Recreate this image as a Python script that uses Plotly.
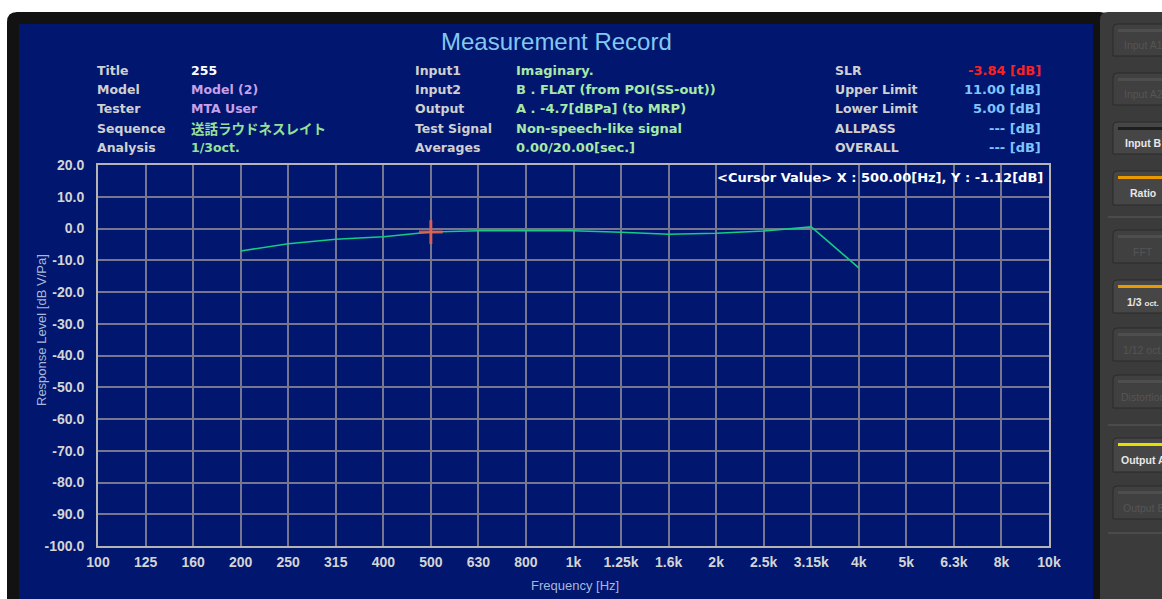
import plotly.graph_objects as go

# ---------------- data ----------------
bands = ["100", "125", "160", "200", "250", "315", "400", "500", "630", "800", "1k",
         "1.25k", "1.6k", "2k", "2.5k", "3.15k", "4k", "5k", "6.3k", "8k", "10k"]
resp_bands = ["200", "250", "315", "400", "500", "630", "800", "1k", "1.25k", "1.6k",
              "2k", "2.5k", "3.15k", "4k"]
resp_db = [-7.1, -4.8, -3.4, -2.6, -1.12, -0.7, -0.7, -0.7, -1.2, -1.8, -1.5, -0.8, 0.5, -12.4]
cursor_band = "500"
cursor_db = -1.12
y_ticks = [20, 10, 0, -10, -20, -30, -40, -50, -60, -70, -80, -90, -100]

header_left_labels = ["Title", "Model", "Tester", "Sequence", "Analysis"]
header_left_values = ["255", "Model (2)", "MTA User", "送話ラウドネスレイト", "1/3oct."]
header_mid_labels = ["Input1", "Input2", "Output", "Test Signal", "Averages"]
header_mid_values = ["Imaginary.", "B . FLAT (from POI(SS-out))", "A . -4.7[dBPa] (to MRP)",
                     "Non-speech-like signal", "0.00/20.00[sec.]"]
header_right_labels = ["SLR", "Upper Limit", "Lower Limit", "ALLPASS", "OVERALL"]
header_right_values = ["-3.84 [dB]", "11.00 [dB]", "5.00 [dB]", "--- [dB]", "--- [dB]"]

# ---------------- geometry helpers ----------------
W, H = 1162, 599
L, R, T, B = 98, 1049, 165, 546


def px(x):
    return (x - L) / (R - L)


def py(y):
    return (B - y) / (B - T)


def rrect(x0, y0, x1, y1, r):
    X0, X1 = px(x0), px(x1)
    Y0, Y1 = py(y0), py(y1)
    rx = r / (R - L)
    ry = r / (B - T)
    return (f"M{X0},{Y1} L{X0},{Y0 - ry} Q{X0},{Y0} {X0 + rx},{Y0} "
            f"L{X1 - rx},{Y0} Q{X1},{Y0} {X1},{Y0 - ry} L{X1},{Y1} Z")


shapes = []
# window background pieces
shapes.append(dict(type="path", path=rrect(7, 12, 1110, 620, 10), fillcolor="#121212",
                   line=dict(width=0), xref="paper", yref="paper", layer="below"))
shapes.append(dict(type="rect", x0=px(19), x1=px(1093), y0=py(24), y1=py(620),
                   fillcolor="#00166f", line=dict(width=0), xref="paper", yref="paper",
                   layer="below"))
shapes.append(dict(type="path", path=rrect(1100, 12, 1200, 620, 8), fillcolor="#3b3b3b",
                   line=dict(width=0), xref="paper", yref="paper", layer="below"))

# right-side buttons: (top, bottom, label, active, bar colour)
buttons = [
    (24, 56, "Input A1", False, "#4e4e4e"),
    (73, 105, "Input A2", False, "#4e4e4e"),
    (122, 154, "Input B", True, "#1e1e1e"),
    (171, 205, "Ratio", True, "#e89a00"),
    (230, 263, "FFT", False, "#4e4e4e"),
    (280, 313, "1/3 <span style='font-size:8px'>oct.</span>", True, "#e89a00"),
    (328, 361, "1/12 oct.", False, "#4e4e4e"),
    (375, 408, "Distortion", False, "#4e4e4e"),
    (438, 472, "Output A", True, "#e4e000"),
    (486, 519, "Output B", False, "#4e4e4e"),
]
annotations = []
for top, bot, lab, active, bar in buttons:
    shapes.append(dict(type="path", path=rrect(1113, top, 1185, bot, 4),
                       fillcolor="#464646" if active else "#404040",
                       line=dict(color="#2a2a2a", width=1), xref="paper", yref="paper",
                       layer="below"))
    shapes.append(dict(type="rect", x0=px(1118), x1=px(1185), y0=py(top + 5), y1=py(top + 8),
                       fillcolor=bar, line=dict(width=0), xref="paper", yref="paper",
                       layer="below"))
    annotations.append(dict(x=px(1143), y=py((top + bot) / 2 + 5), xref="paper", yref="paper",
                            text=f"<b>{lab}</b>" if active else lab, showarrow=False,
                            xanchor="center", yanchor="middle",
                            font=dict(family="Liberation Sans", size=10.5,
                                      color="#e8e8e8" if active else "#555555")))
for sy in (217, 425, 533):
    shapes.append(dict(type="line", x0=px(1108), x1=px(1170), y0=py(sy), y1=py(sy),
                       line=dict(color="#5c5c5c", width=1), xref="paper", yref="paper",
                       layer="below"))

# ---------------- header text ----------------
HF = "DejaVu Sans"
rows_y = [70, 89, 108, 128, 147]
lab_col = "#d0d0d0"
left_val_cols = ["#ffffff", "#c8a0e8", "#c8a0e8", "#98e098", "#98e098"]
right_val_cols = ["#ff2020", "#80c4ff", "#80c4ff", "#80c4ff", "#80c4ff"]


def txt(x, y, s, color, anchor="left", size=12.5, family=HF, bold=True):
    annotations.append(dict(x=px(x), y=py(y), xref="paper", yref="paper",
                            text=f"<b>{s}</b>" if bold else s, showarrow=False,
                            xanchor=anchor, yanchor="middle",
                            font=dict(family=family, size=size, color=color)))


for i, yy in enumerate(rows_y):
    txt(95, yy, header_left_labels[i], lab_col)
    fam = "Noto Sans CJK JP" if i == 3 else HF
    txt(189, yy, header_left_values[i], left_val_cols[i], size=13.5 if i == 3 else 12.5,
        family=fam)
    txt(413, yy, header_mid_labels[i], lab_col)
    txt(514, yy, header_mid_values[i], "#a8e8a8", size=13)
    txt(833, yy, header_right_labels[i], lab_col)
    txt(1043, yy, header_right_values[i], right_val_cols[i], anchor="right", size=13)

# title
annotations.append(dict(x=px(556), y=py(41), xref="paper", yref="paper",
                        text="Measurement Record", showarrow=False, xanchor="center",
                        yanchor="middle",
                        font=dict(family="Liberation Sans", size=24, color="#82c8f2")))
# cursor readout
txt(1045, 177, f"&lt;Cursor Value&gt; X : {float(cursor_band):.2f}[Hz], Y : {cursor_db:.2f}[dB]",
    "#ffffff", anchor="right", size=13)
# axis titles
annotations.append(dict(x=px(575), y=py(585), xref="paper", yref="paper",
                        text="Frequency [Hz]", showarrow=False, xanchor="center",
                        yanchor="middle",
                        font=dict(family="Liberation Sans", size=13, color="#a8b8d8")))
annotations.append(dict(x=px(41), y=py(330), xref="paper", yref="paper",
                        text="Response Level [dB V/Pa]", showarrow=False, textangle=-90,
                        xanchor="center", yanchor="middle",
                        font=dict(family="Liberation Sans", size=13, color="#a8b8d8")))

# ---------------- traces ----------------
fig = go.Figure()
fig.add_trace(go.Scatter(x=resp_bands, y=resp_db, mode="lines",
                         line=dict(color="#14cc84", width=1.6), hoverinfo="skip"))
fig.add_trace(go.Scatter(x=[cursor_band], y=[cursor_db], mode="markers",
                         marker=dict(symbol="cross-thin", size=17,
                                     line=dict(color="rgba(235,95,75,0.85)", width=3)),
                         hoverinfo="skip"))

fig.update_layout(
    width=W, height=H, showlegend=False,
    margin=dict(l=L, r=W - R, t=T, b=H - B, pad=0),
    paper_bgcolor="#ffffff", plot_bgcolor="#000062",
    shapes=shapes, annotations=annotations,
    xaxis=dict(type="category", categoryorder="array", categoryarray=bands,
               tickmode="array", tickvals=bands, ticktext=bands, range=[0, 20],
               showgrid=True, gridcolor="#767690", gridwidth=1.5,
               showline=True, mirror=True, linecolor="#b4b4b4", linewidth=2,
               ticks="", ticklabelstandoff=2,
               tickfont=dict(family="Liberation Sans", size=14, color="#d4d4d4",
                             weight="bold"), fixedrange=True),
    yaxis=dict(range=[-100, 20], tickmode="array", tickvals=y_ticks,
               ticktext=[f"{v:.1f}" for v in y_ticks],
               showgrid=True, gridcolor="#767690", gridwidth=1.5, zeroline=False,
               showline=True, mirror=True, linecolor="#b4b4b4", linewidth=2,
               ticks="", ticklabelstandoff=9,
               tickfont=dict(family="Liberation Sans", size=14, color="#d4d4d4",
                             weight="bold"), fixedrange=True),
)

fig.write_html(
    "out.html",
    config={"displayModeBar": False},
    post_script=("document.body.style.margin='0';"
                 "document.body.style.overflow='hidden';"
                 "document.documentElement.style.overflow='hidden';"),
)
